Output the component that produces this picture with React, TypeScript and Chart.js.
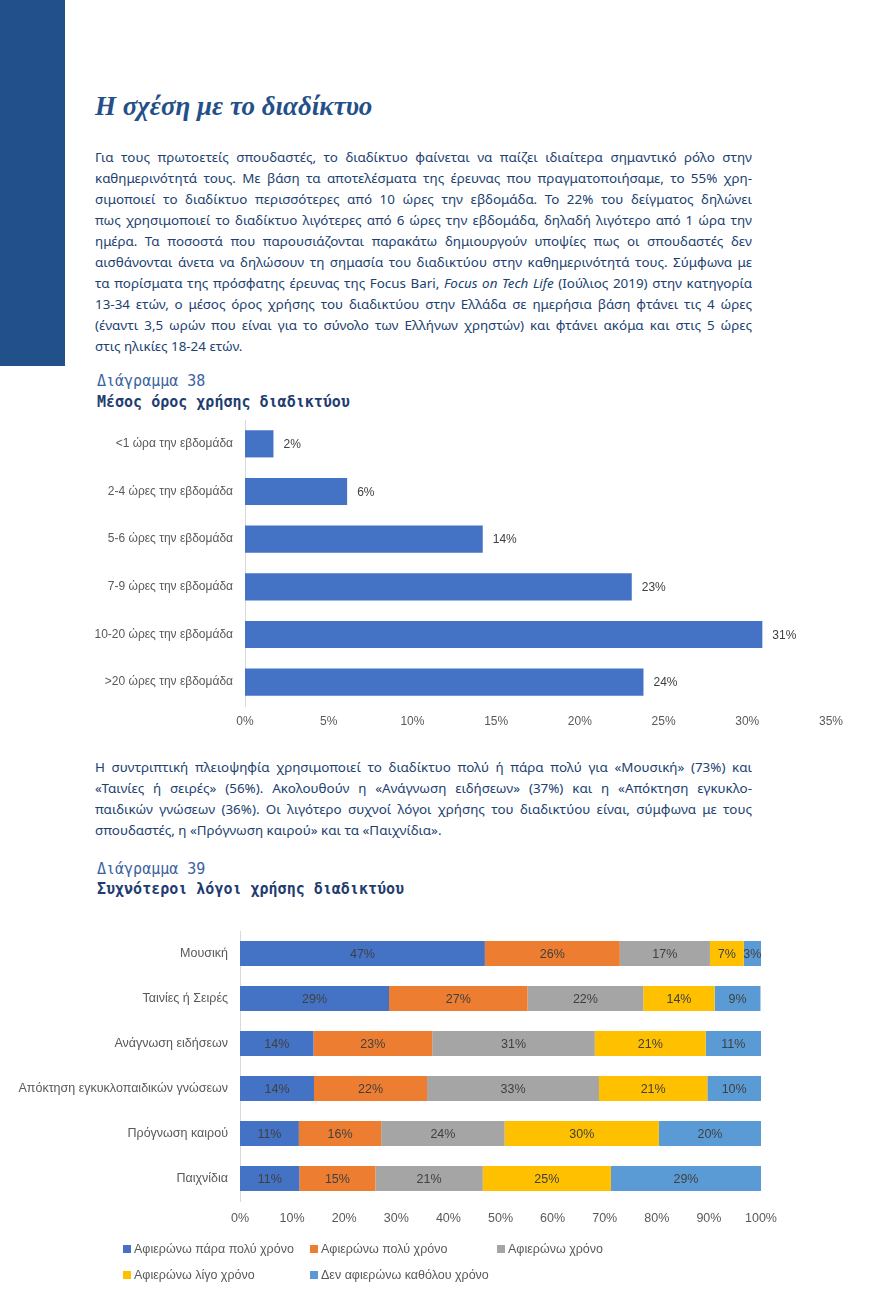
import React, { useEffect, useRef } from "react";
import { Chart, registerables } from "chart.js";

Chart.register(...registerables);

// ---------- Data: chart 38 ----------
const usageCategories = [
  "<1 ώρα την εβδομάδα",
  "2-4 ώρες την εβδομάδα",
  "5-6 ώρες την εβδομάδα",
  "7-9 ώρες την εβδομάδα",
  "10-20 ώρες την εβδομάδα",
  ">20 ώρες την εβδομάδα",
];
const usageValues = [1.7, 6.1, 14.2, 23.1, 30.9, 23.8];
const usageAxisMax = 35;
const usageAxisStep = 5;

// ---------- Data: chart 39 ----------
const reasonCategories = [
  "Μουσική",
  "Ταινίες ή Σειρές",
  "Ανάγνωση ειδήσεων",
  "Απόκτηση εγκυκλοπαιδικών γνώσεων",
  "Πρόγνωση καιρού",
  "Παιχνίδια",
];
const seriesNames = [
  "Αφιερώνω πάρα πολύ χρόνο",
  "Αφιερώνω πολύ χρόνο",
  "Αφιερώνω χρόνο",
  "Αφιερώνω λίγο χρόνο",
  "Δεν αφιερώνω καθόλου χρόνο",
];
const veryMuchTime = [47.0, 28.6, 14.1, 14.2, 11.3, 11.4];
const muchTime = [25.9, 26.6, 22.8, 21.7, 15.8, 14.6];
const someTime = [17.3, 22.2, 31.2, 33.0, 23.7, 20.6];
const littleTime = [6.5, 13.7, 21.3, 20.8, 29.6, 24.6];
const noTime = [3.3, 8.8, 10.6, 10.3, 19.6, 28.8];
const reasonAxisMax = 100;
const reasonAxisStep = 10;

const seriesColors = ["#4472C4", "#ED7D31", "#A5A5A5", "#FFC000", "#5B9BD5"];

// ---------- Text ----------
const pageTitle = "Η σχέση με το διαδίκτυο";
const para1Lines: React.ReactNode[] = [
  "Για τους πρωτοετείς σπουδαστές, το διαδίκτυο φαίνεται να παίζει ιδιαίτερα σημαντικό ρόλο στην",
  "καθημερινότητά τους. Με βάση τα αποτελέσματα της έρευνας που πραγματοποιήσαμε, το 55% χρη-",
  "σιμοποιεί το διαδίκτυο περισσότερες από 10 ώρες την εβδομάδα. Το 22% του δείγματος δηλώνει",
  "πως χρησιμοποιεί το διαδίκτυο λιγότερες από 6 ώρες την εβδομάδα, δηλαδή λιγότερο από 1 ώρα την",
  "ημέρα. Τα ποσοστά που παρουσιάζονται παρακάτω δημιουργούν υποψίες πως οι σπουδαστές δεν",
  "αισθάνονται άνετα να δηλώσουν τη σημασία του διαδικτύου στην καθημερινότητά τους. Σύμφωνα με",
  <>
    τα πορίσματα της πρόσφατης έρευνας της Focus Bari, <i>Focus on Tech Life</i> (Ιούλιος 2019) στην κατηγορία
  </>,
  "13-34 ετών, ο μέσος όρος χρήσης του διαδικτύου στην Ελλάδα σε ημερήσια βάση φτάνει τις 4 ώρες",
  "(έναντι 3,5 ωρών που είναι για το σύνολο των Ελλήνων χρηστών) και φτάνει ακόμα και στις 5 ώρες",
  "στις ηλικίες 18-24 ετών.",
];
const para2Lines: React.ReactNode[] = [
  "Η συντριπτική πλειοψηφία χρησιμοποιεί το διαδίκτυο πολύ ή πάρα πολύ για «Μουσική» (73%) και",
  "«Ταινίες ή σειρές» (56%). Ακολουθούν η «Ανάγνωση ειδήσεων» (37%) και η «Απόκτηση εγκυκλο-",
  "παιδικών γνώσεων (36%). Οι λιγότερο συχνοί λόγοι χρήσης του διαδικτύου είναι, σύμφωνα με τους",
  "σπουδαστές, η «Πρόγνωση καιρού» και τα «Παιχνίδια».",
];

// ---------- Plugins ----------
const valueLabels = {
  id: "valueLabels",
  afterDatasetsDraw(chart: any, _args: any, opts: any) {
    const { ctx } = chart;
    ctx.save();
    ctx.font = opts.font;
    ctx.fillStyle = opts.color;
    ctx.textBaseline = "middle";
    chart.data.datasets.forEach((ds: any, di: number) => {
      const meta = chart.getDatasetMeta(di);
      if (meta.hidden) return;
      meta.data.forEach((bar: any, i: number) => {
        const v = ds.data[i] as number;
        const text = Math.round(v) + "%";
        if (opts.mode === "end") {
          ctx.textAlign = "left";
          ctx.fillText(text, bar.x + opts.offset, bar.y + 1);
        } else {
          ctx.textAlign = "center";
          ctx.fillText(text, (bar.x + bar.base) / 2, bar.y + 1);
        }
      });
    });
    ctx.restore();
  },
};

const gridLegend = {
  id: "gridLegend",
  afterDraw(chart: any, _args: any, opts: any) {
    const { ctx, chartArea } = chart;
    ctx.save();
    ctx.font = opts.font;
    ctx.textBaseline = "middle";
    ctx.textAlign = "left";
    chart.data.datasets.forEach((ds: any, i: number) => {
      const col = i % opts.columns;
      const row = Math.floor(i / opts.columns);
      const x = opts.left + col * opts.columnWidth;
      const y = chartArea.bottom + opts.top + row * opts.rowHeight;
      ctx.fillStyle = ds.backgroundColor;
      ctx.fillRect(x, y - 4, 8, 8);
      ctx.fillStyle = opts.color;
      ctx.fillText(ds.label, x + 11, y + 1);
    });
    ctx.restore();
  },
};

const NARROW = '"Liberation Sans Narrow", "Liberation Sans", Arial, sans-serif';
const REGULAR = '"Liberation Sans", Arial, sans-serif';
const AXIS_COLOR = "#595959";
const LABEL_COLOR = "#404040";

function fixY(width: number) {
  return (s: any) => {
    s.width = width;
    s.paddingTop = 0;
    s.paddingBottom = 0;
  };
}

function UsageChart() {
  const ref = useRef<HTMLCanvasElement | null>(null);
  useEffect(() => {
    if (!ref.current) return;
    const chart = new Chart(ref.current, {
      type: "bar",
      data: {
        labels: usageCategories,
        datasets: [
          {
            label: "Μέσος όρος χρήσης διαδικτύου",
            data: usageValues,
            backgroundColor: "#4472C4",
            barPercentage: 0.57,
            categoryPercentage: 1,
          },
        ],
      },
      options: {
        indexAxis: "y",
        responsive: false,
        animation: false,
        layout: { padding: { top: 5, right: 50, bottom: 4, left: 0 } },
        plugins: {
          legend: { display: false },
          tooltip: { enabled: false },
          valueLabels: { mode: "end", offset: 10, font: `12px ${NARROW}`, color: LABEL_COLOR },
        } as any,
        scales: {
          x: {
            min: 0,
            max: usageAxisMax,
            ticks: {
              stepSize: usageAxisStep,
              callback: (v: any) => `${v}%`,
              color: AXIS_COLOR,
              font: { family: NARROW, size: 12 },
              padding: 8,
            },
            grid: { display: false, drawTicks: false },
            border: { display: false },
            afterFit: (s: any) => {
              s.height = 30;
              s.paddingLeft = 0;
              s.paddingRight = 0;
            },
          },
          y: {
            ticks: {
              color: AXIS_COLOR,
              font: { family: NARROW, size: 12 },
              padding: 12,
            },
            grid: { display: false, drawTicks: false },
            border: { display: true, color: "#D9D9D9", width: 1 },
            afterFit: fixY(245),
          },
        },
      } as any,
      plugins: [valueLabels],
    });
    return () => chart.destroy();
  }, []);
  return (
    <canvas
      ref={ref}
      width={881}
      height={325}
      style={{ position: "absolute", left: 0, top: 415, width: 881, height: 325 }}
    />
  );
}

function ReasonsChart() {
  const ref = useRef<HTMLCanvasElement | null>(null);
  useEffect(() => {
    if (!ref.current) return;
    const seriesData = [veryMuchTime, muchTime, someTime, littleTime, noTime];
    const chart = new Chart(ref.current, {
      type: "bar",
      data: {
        labels: reasonCategories,
        datasets: seriesNames.map((name, i) => ({
          label: name,
          data: seriesData[i],
          backgroundColor: seriesColors[i],
          barPercentage: 0.556,
          categoryPercentage: 1,
        })),
      },
      options: {
        indexAxis: "y",
        responsive: false,
        animation: false,
        layout: { padding: { top: 6, right: 120, bottom: 60, left: 0 } },
        plugins: {
          legend: { display: false },
          tooltip: { enabled: false },
          valueLabels: { mode: "center", font: `12.5px ${REGULAR}`, color: LABEL_COLOR },
          gridLegend: {
            font: `12.5px ${REGULAR}`,
            color: AXIS_COLOR,
            columns: 3,
            left: 123,
            columnWidth: 187,
            top: 48,
            rowHeight: 26,
          },
        } as any,
        scales: {
          x: {
            stacked: true,
            min: 0,
            max: reasonAxisMax,
            ticks: {
              stepSize: reasonAxisStep,
              callback: (v: any) => `${v}%`,
              color: AXIS_COLOR,
              font: { family: REGULAR, size: 12.5 },
              padding: 10,
            },
            grid: { display: false, drawTicks: false },
            border: { display: false },
            afterFit: (s: any) => {
              s.height = 30;
              s.paddingLeft = 0;
              s.paddingRight = 0;
            },
          },
          y: {
            stacked: true,
            ticks: {
              color: AXIS_COLOR,
              font: { family: REGULAR, size: 12.5 },
              padding: 12,
            },
            grid: { display: false, drawTicks: false },
            border: { display: true, color: "#D9D9D9", width: 1 },
            afterFit: fixY(240),
          },
        },
      } as any,
      plugins: [valueLabels, gridLegend],
    });
    return () => chart.destroy();
  }, []);
  return (
    <canvas
      ref={ref}
      width={881}
      height={366}
      style={{ position: "absolute", left: 0, top: 925, width: 881, height: 366 }}
    />
  );
}

const BODY_FONT = '"Noto Sans", "Open Sans", sans-serif';
const BODY_COLOR = "#213f70";
const MONO = '"DejaVu Sans Mono", "Liberation Mono", monospace';

function Paragraph({ lines, top }: { lines: React.ReactNode[]; top: number }) {
  return (
    <div
      style={{
        position: "absolute",
        left: 95,
        top,
        width: 657,
        fontFamily: BODY_FONT,
        fontSize: 13.4,
        lineHeight: "21px",
        color: BODY_COLOR,
      }}
    >
      {lines.map((l, i) => (
        <div
          key={i}
          style={{
            whiteSpace: "nowrap",
            textAlign: i === lines.length - 1 ? "left" : "justify",
            textAlignLast: i === lines.length - 1 ? "left" : "justify",
          }}
        >
          {l}
        </div>
      ))}
    </div>
  );
}

export default function App() {
  return (
    <div
      style={{
        position: "absolute",
        left: 0,
        top: 0,
        width: 881,
        height: 1291,
        background: "#ffffff",
        overflow: "hidden",
      }}
    >
      <div style={{ position: "absolute", left: 0, top: 0, width: 65, height: 366, background: "#22508A" }} />
      <div
        style={{
          position: "absolute",
          left: 95,
          top: 92,
          fontFamily: '"Liberation Serif", "DejaVu Serif", serif',
          fontWeight: "bold",
          fontStyle: "italic",
          fontSize: 27,
          lineHeight: "28px",
          color: "#24508A",
          whiteSpace: "nowrap",
        }}
      >
        {pageTitle}
      </div>
      <Paragraph lines={para1Lines} top={147} />
      <div style={{ position: "absolute", left: 97, top: 371, fontFamily: MONO, fontSize: 15, lineHeight: "20px", color: "#3A62A0" }}>
        Διάγραμμα 38
      </div>
      <div style={{ position: "absolute", left: 97, top: 392, fontFamily: MONO, fontSize: 15, lineHeight: "20px", fontWeight: "bold", color: "#1F3D70" }}>
        Μέσος όρος χρήσης διαδικτύου
      </div>
      <UsageChart />
      <Paragraph lines={para2Lines} top={757} />
      <div style={{ position: "absolute", left: 97, top: 859, fontFamily: MONO, fontSize: 15, lineHeight: "20px", color: "#3A62A0" }}>
        Διάγραμμα 39
      </div>
      <div style={{ position: "absolute", left: 97, top: 879, fontFamily: MONO, fontSize: 15, lineHeight: "20px", fontWeight: "bold", color: "#1F3D70" }}>
        Συχνότεροι λόγοι χρήσης διαδικτύου
      </div>
      <ReasonsChart />
    </div>
  );
}
